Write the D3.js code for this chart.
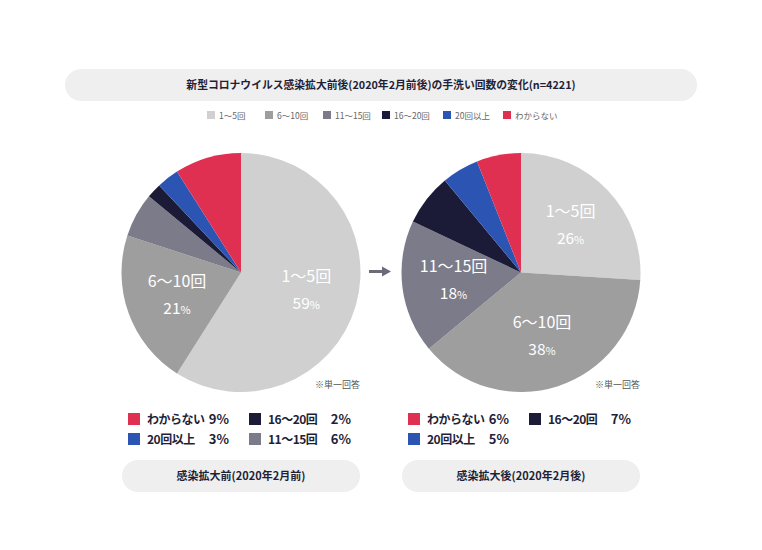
<!DOCTYPE html>
<html><head><meta charset="utf-8">
<script src="https://cdn.jsdelivr.net/npm/d3@7"></script>
<style>
html,body{margin:0;padding:0;background:#fff;}
svg{display:block;}
text{font-family:"Noto Sans CJK JP","Liberation Sans",sans-serif;}
</style></head>
<body>
<svg id="chart" width="762" height="550"></svg>
<script>
const title = "新型コロナウイルス感染拡大前後(2020年2月前後)の手洗い回数の変化(n=4221)";
const categories = ["1〜5回","6〜10回","11〜15回","16〜20回","20回以上","わからない"];
const colors = ["#d0d0d0","#9e9e9e","#7b7b89","#1b1b38","#2c55b3","#e03052"];
const beforeValues = [59,21,6,2,3,9];
const afterValues = [26,38,18,7,5,6];
const panelTitles = ["感染拡大前(2020年2月前)","感染拡大後(2020年2月後)"];
const note = "※単一回答";
// which slices are labelled inside pie, per panel
const beforeInside = ["1〜5回","6〜10回"];
const afterInside = ["1〜5回","6〜10回","11〜15回"];
// legend order below each pie
const beforeLegend = [["わからない","16〜20回"],["20回以上","11〜15回"]];
const afterLegend = [["わからない","16〜20回"],["20回以上"]];

const svg = d3.select("#chart");
const color = d3.scaleOrdinal().domain(categories).range(colors);
const ink = "#1f1f38";

// title pill
svg.append("rect").attr("x",65).attr("y",69).attr("width",632).attr("height",32)
  .attr("rx",16).attr("fill","#efefef");
svg.append("text").attr("x",381).attr("y",89).attr("text-anchor","middle")
  .attr("font-size",10.8).attr("font-weight","bold").attr("fill",ink).text(title);

// top legend
const legX = [207,265,323,382,443,503];
const topLeg = svg.append("g");
categories.forEach((c,i)=>{
  topLeg.append("rect").attr("x",legX[i]).attr("y",111).attr("width",8).attr("height",8).attr("fill",color(c));
  topLeg.append("text").attr("x",legX[i]+12).attr("y",119).attr("font-size",8.5)
    .attr("fill","#666").text(c);
});

const R = 119.5;
const pie = d3.pie().sort(null).value(d=>d.v);
const arc = d3.arc().innerRadius(0).outerRadius(R);
const labelArc = d3.arc().innerRadius(68).outerRadius(68);

function panel(values, inside, legendRows, ptitle, dx){
  const g = svg.append("g");
  const cx = 241+dx, cy = 272.5;
  const data = categories.map((c,i)=>({c, v:values[i]}));
  const arcs = pie(data);
  const pg = g.append("g").attr("transform",`translate(${cx},${cy})`);
  pg.selectAll("path").data(arcs).join("path").attr("d",arc).attr("fill",d=>color(d.data.c));
  arcs.filter(a=>inside.includes(a.data.c)).forEach(a=>{
    const [x,y] = labelArc.centroid(a);
    pg.append("text").attr("x",x).attr("y",y-9).attr("text-anchor","middle")
      .attr("font-size",16).attr("fill","#fff").attr("font-family","'Liberation Sans','Noto Sans CJK JP',sans-serif")
      .text(a.data.c);
    const p = pg.append("text").attr("x",x).attr("y",y+18).attr("text-anchor","middle")
      .attr("font-size",15.5).attr("fill","#fff").attr("font-family","'Liberation Sans',sans-serif");
    p.append("tspan").text(a.data.v);
    p.append("tspan").attr("font-size",11).text("%");
  });
  // note
  g.append("text").attr("x",360+dx).attr("y",388).attr("text-anchor","end")
    .attr("font-size",9).attr("fill","#555").text(note);
  // legend
  legendRows.forEach((row,ri)=>{
    row.forEach((c,ci)=>{
      const x0 = (ci===0?128:249)+dx, y0 = 413+ri*20;
      const v = values[categories.indexOf(c)];
      g.append("rect").attr("x",x0).attr("y",y0).attr("width",12).attr("height",12).attr("fill",color(c));
      g.append("text").attr("x",x0+19).attr("y",y0+11).attr("font-size",12).attr("font-weight","bold")
        .attr("letter-spacing",-0.5).attr("fill",ink).text(c);
      g.append("text").attr("x",(ci===0?229:351)+dx).attr("y",y0+11).attr("text-anchor","end")
        .attr("font-size",13).attr("font-weight","bold").attr("fill",ink)
        .attr("font-family","'Liberation Sans',sans-serif").text(v+"%");
    });
  });
  // panel title pill
  g.append("rect").attr("x",122+dx).attr("y",460).attr("width",238).attr("height",32)
    .attr("rx",16).attr("fill","#efefef");
  g.append("text").attr("x",241+dx).attr("y",480).attr("text-anchor","middle")
    .attr("font-size",11).attr("font-weight","bold").attr("fill",ink).text(ptitle);
}
panel(beforeValues, beforeInside, beforeLegend, panelTitles[0], 0);
panel(afterValues, afterInside, afterLegend, panelTitles[1], 280);

// arrow
svg.append("rect").attr("x",369).attr("y",270).attr("width",14).attr("height",3).attr("fill","#6b6b7a");
svg.append("path").attr("d","M382,266.5 L391,271.5 L382,276.5 Z").attr("fill","#6b6b7a");
</script>
</body></html>
